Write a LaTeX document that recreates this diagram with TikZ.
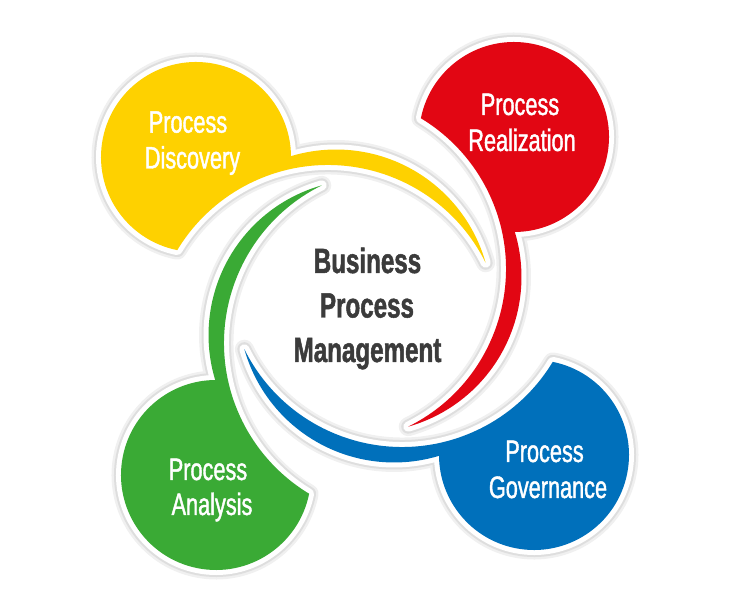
\documentclass[tikz,border=0pt]{standalone}
\usepackage{fontspec}
\newfontfamily\labelfont[FakeStretch=0.70,FakeBold=1.3]{Liberation Sans}
\newfontfamily\titlefont[FakeStretch=0.69,FakeBold=1.4]{Liberation Sans}
\definecolor{cyellow}{HTML}{FED100}
\definecolor{cred}{HTML}{E20613}
\definecolor{cblue}{HTML}{0070BB}
\definecolor{cgreen}{HTML}{3AAA35}
\definecolor{titlegray}{HTML}{3B3B3B}
\begin{document}
\begin{tikzpicture}[x=1pt,y=1pt,
  shadowouter/.style={draw=black!6, line width=19pt, line join=round},
  shadowinner/.style={draw=black!13, line width=14pt, line join=round},
  whiteedge/.style={draw=white, line width=10pt, line join=round},
  lbl/.style={text=white, font=\labelfont\fontsize{31}{36}\selectfont, anchor=base, inner sep=0pt},
  ttl/.style={text=titlegray, font=\titlefont\bfseries\fontsize{35}{44}\selectfont, anchor=base, inner sep=0pt}]
\useasboundingbox (0,0) rectangle (743,615);
% layer 1: soft shadows
\foreach \r in {0,-90,-180,-270}{
  \path[shadowouter, shift={(365,309)}, rotate=\r]
    (-187.72,55.87) arc[start angle=258.63, end angle=0.5, radius=95]
    arc[start angle=106.82, end angle=15.76, radius=155.5]
    arc[start angle=26.39, end angle=148.91, radius=176] -- cycle;
}
\foreach \r in {0,-90,-180,-270}{
  \path[shadowinner, shift={(365,309)}, rotate=\r]
    (-187.72,55.87) arc[start angle=258.63, end angle=0.5, radius=95]
    arc[start angle=106.82, end angle=15.76, radius=155.5]
    arc[start angle=26.39, end angle=148.91, radius=176] -- cycle;
}
% layer 2: white rims
\foreach \r in {0,-90,-180,-270}{
  \path[whiteedge, shift={(365,309)}, rotate=\r]
    (-187.72,55.87) arc[start angle=258.63, end angle=0.5, radius=95]
    arc[start angle=106.82, end angle=15.76, radius=155.5]
    arc[start angle=26.39, end angle=148.91, radius=176] -- cycle;
}
% layer 3: coloured petals
\foreach \r/\c in {0/cyellow,-90/cred,-180/cblue,-270/cgreen}{
  \path[fill=\c, shift={(365,309)}, rotate=\r]
    (-187.72,55.87) arc[start angle=258.63, end angle=0.5, radius=95]
    arc[start angle=106.82, end angle=15.76, radius=155.5]
    arc[start angle=26.39, end angle=148.91, radius=176] -- cycle;
}
% labels
\node[lbl] (y1) at (188,482.3) {Process};
\node[lbl] (y2) at (192.5,446.5) {Discovery};
\node[lbl] (r1) at (520,500) {Process};
\node[lbl] (r2) at (522,464) {Realization};
\node[lbl] (b1) at (544.5,153) {Process};
\node[lbl] (b2) at (548,117) {Governance};
\node[lbl] (g1) at (208,135) {Process};
\node[lbl] (g2) at (212,100) {Analysis};
\node[ttl] (t1) at (367.5,342) {Business};
\node[ttl] (t2) at (367,297.5) {Process};
\node[ttl] (t3) at (367.5,253) {Management};
\end{tikzpicture}
\end{document}
